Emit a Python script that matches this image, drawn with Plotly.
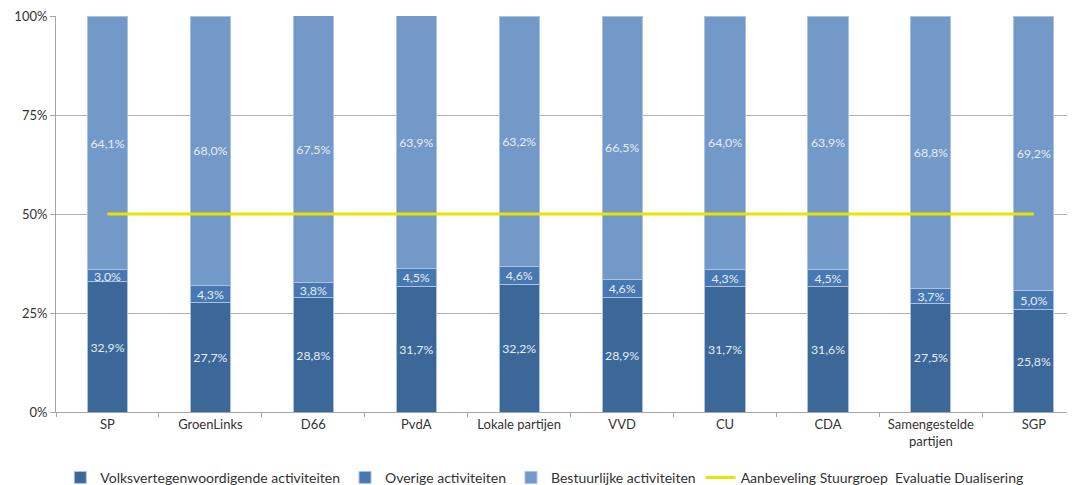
import plotly.graph_objects as go

categories = ["SP", "GroenLinks", "D66", "PvdA", "Lokale partijen", "VVD", "CU", "CDA",
              "Samengestelde<br>partijen", "SGP"]
volks = [32.9, 27.7, 28.8, 31.7, 32.2, 28.9, 31.7, 31.6, 27.5, 25.8]
overige = [3.0, 4.3, 3.8, 4.5, 4.6, 4.6, 4.3, 4.5, 3.7, 5.0]
bestuur = [64.1, 68.0, 67.5, 63.9, 63.2, 66.5, 64.0, 63.9, 68.8, 69.2]
aanbeveling = [50] * len(categories)
y_ticks = [0, 25, 50, 75, 100]
y_ticktext = ["0%", "25%", "50%", "75%", "100%"]

def lbl(vals):
    return [f"{v:.1f}%".replace(".", ",") for v in vals]

FONT = "Lato, 'Open Sans', sans-serif"
series = [
    ("Volksvertegenwoordigende activiteiten", volks, "#3b6898"),
    ("Overige activiteiten", overige, "#4878b2"),
    ("Bestuurlijke activiteiten", bestuur, "#7399c9"),
]

fig = go.Figure()
for name, vals, col in series:
    fig.add_trace(go.Bar(
        x=categories, y=vals, name=name, text=lbl(vals),
        textposition="inside", insidetextanchor="middle", textangle=0,
        textfont=dict(color="#e6edf6", size=13, family=FONT),
        marker=dict(color=col, line=dict(color="#a9c2e2", width=1)),
        width=0.39,
    ))

fig.add_trace(go.Scatter(
    x=categories, y=aanbeveling, mode="lines",
    name="Aanbeveling Stuurgroep  Evaluatie Dualisering",
    line=dict(color="#ebe400", width=3),
))

fig.update_layout(
    barmode="stack",
    width=1067, height=477,
    margin=dict(l=48, r=0, t=8, b=73),
    paper_bgcolor="white", plot_bgcolor="white",
    font=dict(family=FONT, size=13, color="#333333"),
    uniformtext=dict(minsize=12, mode="show"),
    showlegend=True,
    legend=dict(orientation="h", xref="container", yref="container",
                x=0.049, xanchor="left", y=0.015, yanchor="middle",
                font=dict(size=14, color="#333333"), traceorder="normal",
                itemwidth=30, tracegroupgap=0),
)
fig.update_xaxes(
    range=[-0.5, 9.40], showline=True, linecolor="#a6a6a6", linewidth=1,
    ticks="outside", tickson="boundaries", ticklen=4, tickcolor="#a6a6a6",
    tickfont=dict(size=13, color="#333333"), showgrid=False, automargin=False,
    ticklabeloverflow="allow",
)
fig.update_yaxes(
    range=[0, 100], tickvals=y_ticks, ticktext=y_ticktext,
    showline=True, linecolor="#a6a6a6", linewidth=1,
    ticks="outside", ticklen=5, tickcolor="#a6a6a6",
    showgrid=True, gridcolor="#b0b0b0", gridwidth=1,
    tickfont=dict(size=13, color="#333333"), zeroline=False, automargin=False,
    ticklabeloverflow="allow",
)

fig.write_html("out.html")
